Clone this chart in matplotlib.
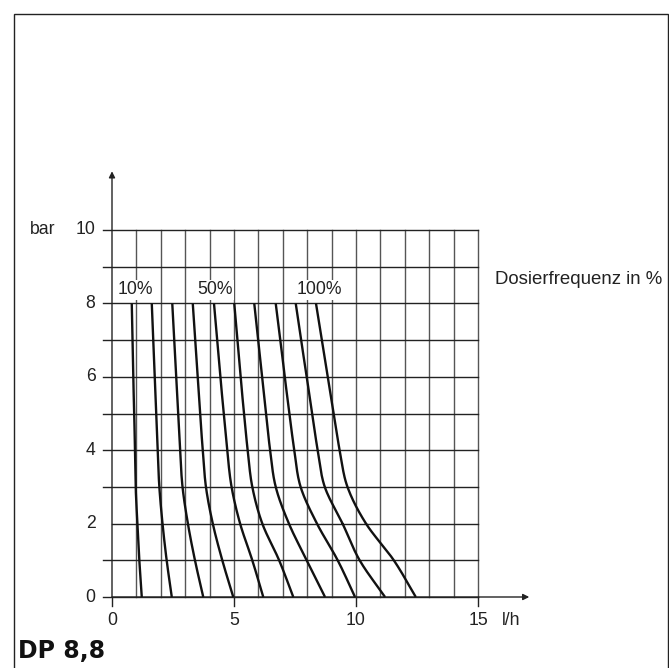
import numpy as np
import matplotlib
matplotlib.use('Agg')
import matplotlib.pyplot as plt
from matplotlib.patches import Rectangle

plt.rcParams['font.family'] = ['Liberation Sans', 'DejaVu Sans']
plt.rcParams['font.size'] = 12.7

druck = [8, 7, 6, 5, 4, 3, 2, 1, 0]
# Foerdermenge (l/h) je Kennlinie, von 10% bis 100% Dosierfrequenz
kurven = [
    [0.81, 0.84, 0.87, 0.91, 0.94, 0.97, 1.04, 1.12, 1.22],
    [1.63, 1.69, 1.75, 1.81, 1.87, 1.94, 2.07, 2.24, 2.45],
    [2.47, 2.55, 2.63, 2.71, 2.79, 2.89, 3.11, 3.40, 3.74],
    [3.31, 3.41, 3.51, 3.61, 3.72, 3.85, 4.13, 4.52, 4.97],
    [4.18, 4.31, 4.44, 4.58, 4.72, 4.90, 5.25, 5.75, 6.20],
    [5.01, 5.14, 5.27, 5.41, 5.56, 5.75, 6.16, 6.85, 7.43],
    [5.83, 5.99, 6.15, 6.31, 6.48, 6.71, 7.25, 7.98, 8.73],
    [6.71, 6.90, 7.08, 7.27, 7.47, 7.73, 8.40, 9.25, 9.96],
    [7.53, 7.75, 7.98, 8.20, 8.43, 8.72, 9.45, 10.15, 11.19],
    [8.36, 8.60, 8.84, 9.08, 9.33, 9.65, 10.41, 11.55, 12.45],
]
prozent_labels = ['10%', '50%', '100%']
prozent_x = [0.94, 4.22, 8.48]
x_ticks = [0, 5, 10, 15]
y_ticks = [0, 2, 4, 6, 8, 10]


def glatt(xs, ys, n=20):
    # Catmull-Rom durch die Stuetzstellen, nur fuer eine runde Linie
    p = np.column_stack([xs, ys]).astype(float)
    p = np.vstack([2 * p[0] - p[1], p, 2 * p[-1] - p[-2]])
    out = []
    t = np.linspace(0, 1, n)[:, None]
    for i in range(1, len(p) - 2):
        p0, p1, p2, p3 = p[i - 1], p[i], p[i + 1], p[i + 2]
        seg = 0.5 * ((2 * p1) + (-p0 + p2) * t + (2 * p0 - 5 * p1 + 4 * p2 - p3) * t ** 2
                     + (-p0 + 3 * p1 - 3 * p2 + p3) * t ** 3)
        out.append(seg)
    out = np.vstack(out)
    return out[:, 0], out[:, 1]


fig = plt.figure(figsize=(6.69, 6.68), dpi=100)
ax = fig.add_axes([112 / 669, 71 / 668, 366 / 669, 367 / 668])
ax.set_xlim(0, 15)
ax.set_ylim(0, 10)
ax.axis('off')

# Rahmen
fig.add_artist(Rectangle((14 / 669, -0.01), 654 / 669, 1 - 14 / 668 + 0.01,
                         transform=fig.transFigure, fill=False, lw=1.0, ec='#222222'))

# Gitter
for gx in range(1, 16):
    ax.plot([gx, gx], [0, 10], color='#555555', lw=1.0, clip_on=False, zorder=1)
for gy in range(0, 11):
    x0 = 0 if gy == 2 else -0.36
    ax.plot([x0, 15], [gy, gy], color='#222222', lw=1.0, clip_on=False, zorder=1)
for tx in x_ticks:
    ax.plot([tx, tx], [0, -0.25], color='#222222', lw=1.0, clip_on=False, zorder=1)

# Achsen mit Pfeilen
ax.annotate('', xy=(0, 11.6), xytext=(0, 0), annotation_clip=False,
            arrowprops=dict(arrowstyle='-|>', color='#222222', lw=1.0, mutation_scale=9,
                            shrinkA=0, shrinkB=0))
ax.annotate('', xy=(17.1, 0), xytext=(0, 0), annotation_clip=False,
            arrowprops=dict(arrowstyle='-|>', color='#222222', lw=1.0, mutation_scale=9,
                            shrinkA=0, shrinkB=0))

# Kennlinien
for k in kurven:
    xs, ys = glatt(k, druck)
    ax.plot(xs, ys, color='#111111', lw=1.7, clip_on=False, zorder=3,
            solid_capstyle='butt')

# Beschriftungen
for tx in x_ticks:
    ax.text(tx, -0.65, str(tx), ha='center', va='center', color='#222222')
for ty in y_ticks:
    ax.text(-0.68, ty, str(ty), ha='right', va='center', color='#222222')
ax.text(-2.85, 10, 'bar', ha='center', va='center', color='#222222')
ax.text(16.35, -0.65, 'l/h', ha='center', va='center', color='#222222')
ax.text(15.7, 8.66, 'Dosierfrequenz in %', ha='left', va='center', color='#222222',
        fontsize=13.4)
for lab, px in zip(prozent_labels, prozent_x):
    ax.text(px, 8.37, lab, ha='center', va='center', color='#222222', zorder=4,
            bbox=dict(facecolor='white', edgecolor='none', pad=1.0))

fig.text(18 / 669, 1 - 651 / 668, 'DP 8,8', ha='left', va='center',
         fontsize=17, fontweight='bold', color='#111111', family='DejaVu Sans')

fig.savefig('out.png', dpi=100)
